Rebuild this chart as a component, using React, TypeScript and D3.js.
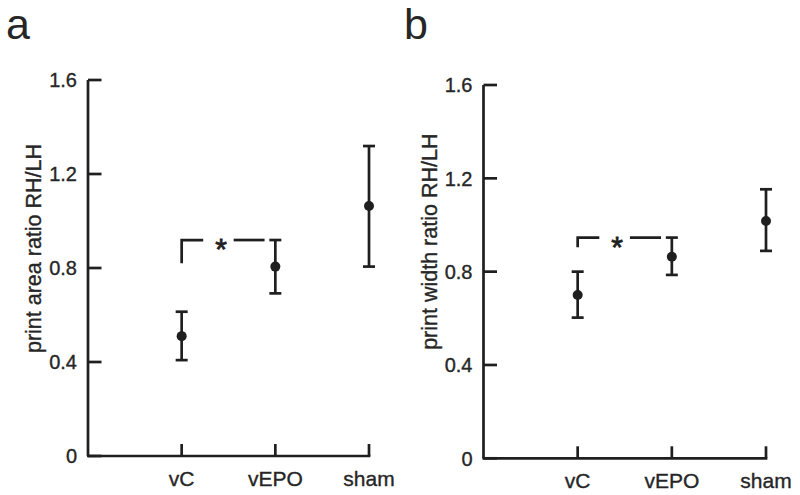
import React from "react";
import * as d3 from "d3";

const categories = ["vC", "vEPO", "sham"];
const yTicks = [0, 0.4, 0.8, 1.2, 1.6];

const areaMean = [0.51, 0.806, 1.064];
const areaLow = [0.408, 0.692, 0.806];
const areaHigh = [0.614, 0.919, 1.319];
const areaBracket = [0.82, 0.919]; // left leg bottom, top line

const widthMean = [0.70, 0.864, 1.017];
const widthLow = [0.603, 0.786, 0.889];
const widthHigh = [0.80, 0.946, 1.153];
const widthBracket = [0.905, 0.946];

const FONT = "'Liberation Sans', Arial, Helvetica, sans-serif";
const INK = "#1f1f1f";
const TXT = "#262626";
const TSTROKE = { stroke: TXT, strokeWidth: 0.35 };

type PanelProps = {
  label: string;
  title: string;
  mean: number[];
  low: number[];
  high: number[];
  bracket: number[];
  left: number;
  right: number;
  top: number;
  bottom: number;
  titleX: number;
  titleY: number;
  labelX: number;
};

function Panel(p: PanelProps) {
  const y = d3.scaleLinear().domain([0, 1.6]).range([p.bottom, p.top]);
  const x = d3
    .scalePoint<string>()
    .domain(["", ...categories])
    .range([p.left, p.right]);
  const sw = 2.7;
  const cap = 6;
  const x0 = x(categories[0]) as number;
  const x1 = x(categories[1]) as number;
  const step = x1 - x0;
  const by = y(p.bracket[1]);
  return (
    <g>
      <text x={p.labelX} y={39} fontSize={43} fontFamily={FONT} fill={TXT}>
        {p.label}
      </text>
      <text
        transform={`translate(${p.titleX},${p.titleY}) rotate(-90)`}
        textAnchor="middle"
        fontSize={21.5}
        fontFamily={FONT}
        fill={TXT}
        {...TSTROKE}
      >
        {p.title}
      </text>
      {/* y axis */}
      <line x1={p.left} x2={p.left} y1={y(1.6)} y2={y(0)} stroke={INK} strokeWidth={sw} />
      {yTicks.map((t) => (
        <g key={t}>
          <line x1={p.left} x2={p.left + 13.5} y1={y(t)} y2={y(t)} stroke={INK} strokeWidth={sw} />
          <text
            x={p.left - 11}
            y={y(t)}
            dy="0.36em"
            textAnchor="end"
            fontSize={20}
            fontFamily={FONT}
            fill={TXT}
            {...TSTROKE}
          >
            {t === 0 ? "0" : d3.format(".1f")(t)}
          </text>
        </g>
      ))}
      {/* x axis */}
      <line x1={p.left - 1} x2={p.right + sw / 2} y1={y(0)} y2={y(0)} stroke={INK} strokeWidth={sw} />
      {categories.map((c) => (
        <g key={c}>
          <line x1={x(c)} x2={x(c)} y1={y(0)} y2={y(0) - 12} stroke={INK} strokeWidth={sw} />
          <text
            x={x(c)}
            y={y(0) + 30}
            textAnchor="middle"
            fontSize={21}
            fontFamily={FONT}
            fill={TXT}
            {...TSTROKE}
          >
            {c}
          </text>
        </g>
      ))}
      {/* error bars */}
      {categories.map((c, i) => {
        const cx = x(c) as number;
        return (
          <g key={c}>
            <line x1={cx} x2={cx} y1={y(p.low[i])} y2={y(p.high[i])} stroke={INK} strokeWidth={sw} />
            <line x1={cx - cap} x2={cx + cap} y1={y(p.low[i])} y2={y(p.low[i])} stroke={INK} strokeWidth={sw} />
            <line x1={cx - cap} x2={cx + cap} y1={y(p.high[i])} y2={y(p.high[i])} stroke={INK} strokeWidth={sw} />
            <circle cx={cx} cy={y(p.mean[i])} r={5} fill={INK} />
          </g>
        );
      })}
      {/* significance bracket */}
      <path
        d={`M${x0},${y(p.bracket[0])}V${by}H${x0 + step * 0.23}`}
        fill="none"
        stroke={INK}
        strokeWidth={sw}
      />
      <line x1={x0 + step * 0.555} x2={x0 + step * 0.885} y1={by} y2={by} stroke={INK} strokeWidth={sw} />
      <text
        x={x0 + step * 0.42}
        y={by + 19}
        textAnchor="middle"
        fontSize={30}
        fontFamily={FONT}
        fill={INK}
        stroke={INK}
        strokeWidth={0.8}
      >
        *
      </text>
    </g>
  );
}

export default function App() {
  return (
    <svg
      width={800}
      height={495}
      style={{ position: "absolute", left: 0, top: 0, background: "#fff" }}
    >
      <rect width={800} height={495} fill="#fff" />
      <Panel
        label="a"
        title="print area ratio RH/LH"
        mean={areaMean}
        low={areaLow}
        high={areaHigh}
        bracket={areaBracket}
        left={88}
        right={369}
        top={80}
        bottom={456}
        titleX={41}
        titleY={248.5}
        labelX={6}
      />
      <Panel
        label="b"
        title="print width ratio RH/LH"
        mean={widthMean}
        low={widthLow}
        high={widthHigh}
        bracket={widthBracket}
        left={483.5}
        right={766}
        top={85}
        bottom={458.3}
        titleX={437}
        titleY={241.7}
        labelX={404}
      />
    </svg>
  );
}
